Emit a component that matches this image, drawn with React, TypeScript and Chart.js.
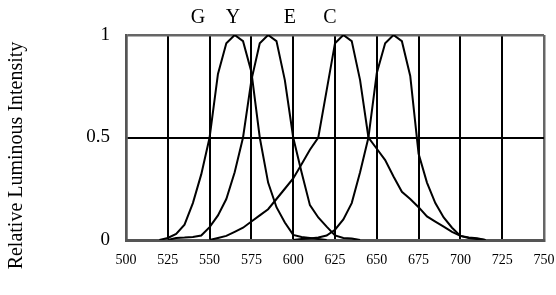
import React, { useEffect, useRef } from "react";
import { Chart, registerables } from "chart.js";

Chart.register(...registerables);

// Wavelength (nm) and relative intensity for each of the four curves
const nmA = [520, 525, 530, 535, 540, 545, 550, 555, 560, 565, 570, 575, 580, 585, 590, 595, 600, 605, 610, 615, 620];
const valA = [0, 0.01, 0.03, 0.075, 0.18, 0.32, 0.5, 0.81, 0.96, 1, 0.97, 0.82, 0.5, 0.28, 0.16, 0.085, 0.025, 0.015, 0.01, 0.005, 0];

const nmB = [525, 530, 535, 540, 545, 550, 555, 560, 565, 570, 575, 580, 585, 590, 595, 600, 605, 610, 615, 620, 625, 630, 635, 640];
const valB = [0, 0.01, 0.012, 0.015, 0.022, 0.063, 0.12, 0.2, 0.33, 0.5, 0.78, 0.96, 1, 0.97, 0.78, 0.5, 0.33, 0.17, 0.11, 0.065, 0.022, 0.01, 0.007, 0];

const nmC = [550, 555, 560, 565, 570, 575, 580, 585, 590, 595, 600, 605, 610, 615, 620, 625, 630, 635, 640, 645, 650, 655, 660, 665, 670, 675, 680, 685, 690, 695, 700, 705, 710, 715];
const valC = [0, 0.01, 0.02, 0.04, 0.06, 0.09, 0.12, 0.15, 0.2, 0.25, 0.3, 0.37, 0.44, 0.5, 0.73, 0.96, 1, 0.97, 0.78, 0.5, 0.445, 0.39, 0.31, 0.235, 0.2, 0.16, 0.115, 0.09, 0.065, 0.04, 0.02, 0.012, 0.008, 0];

const nmD = [600, 605, 610, 615, 620, 625, 630, 635, 640, 645, 650, 655, 660, 665, 670, 675, 680, 685, 690, 695, 700, 705, 710, 715];
const valD = [0, 0.005, 0.007, 0.012, 0.022, 0.05, 0.1, 0.18, 0.33, 0.5, 0.815, 0.96, 1, 0.97, 0.8, 0.42, 0.28, 0.18, 0.11, 0.06, 0.02, 0.01, 0.005, 0];

// Top annotations and their wavelength positions
const topLabels = ["G", "Y", "E", "C"];
const topLabelNm = [543, 564, 598, 622];

const yTitle = "Relative Luminous Intensity";
const xMin = 500, xMax = 750, xStep = 25;
const yMin = 0, yMax = 1, yStep = 0.5;

const FONT = "'Liberation Serif', 'Times New Roman', serif";

const pts = (xs: number[], ys: number[]) => xs.map((x, i) => ({ x, y: ys[i] }));

export default function App() {
  const ref = useRef<HTMLCanvasElement | null>(null);

  useEffect(() => {
    document.body.style.margin = "0";
    const canvas = ref.current;
    if (!canvas) return;

    const annot = {
      id: "annot",
      afterDraw(chart: any) {
        const { ctx, scales, chartArea } = chart;
        ctx.save();
        ctx.fillStyle = "#000";
        ctx.font = `20px ${FONT}`;
        ctx.textAlign = "center";
        ctx.textBaseline = "alphabetic";
        topLabels.forEach((t, i) => {
          ctx.fillText(t, scales.x.getPixelForValue(topLabelNm[i]), chartArea.top - 12);
        });
        // y-axis title
        ctx.font = `20px ${FONT}`;
        ctx.translate(17, (chartArea.top + chartArea.bottom) / 2 + 18);
        ctx.rotate(-Math.PI / 2);
        ctx.textBaseline = "middle";
        ctx.fillText(yTitle, 0, 0);
        ctx.restore();
      },
    };

    const ds = (xs: number[], ys: number[]) => ({
      data: pts(xs, ys),
      borderColor: "#000",
      borderWidth: 2,
      pointRadius: 0,
      fill: false,
      tension: 0,
    });

    const chart = new Chart(canvas, {
      type: "line",
      data: {
        datasets: [ds(nmA, valA), ds(nmB, valB), ds(nmC, valC), ds(nmD, valD)],
      },
      options: {
        animation: false,
        responsive: false,
        maintainAspectRatio: false,
        layout: { padding: { left: 0, right: 0, top: 35, bottom: 0 } },
        plugins: { legend: { display: false }, tooltip: { enabled: false }, title: { display: false } },
        scales: {
          x: {
            type: "linear",
            min: xMin,
            max: xMax,
            ticks: { stepSize: xStep, color: "#000", font: { family: FONT, size: 14 }, padding: 12 },
            grid: {
              color: (c: any) => (c.tick && (c.tick.value === xMin || c.tick.value === xMax) ? "#666" : "#000"),
              lineWidth: (c: any) => (c.tick && (c.tick.value === xMin || c.tick.value === xMax) ? 2.5 : 2),
              drawTicks: false,
            },
            border: { color: "#555", width: 3 },
            afterFit: (s: any) => {
              s.height = 295 - 240;
              s.paddingRight = 12;
              s.paddingLeft = 0;
            },
          },
          y: {
            type: "linear",
            min: yMin,
            max: yMax,
            ticks: {
              stepSize: yStep,
              color: "#000",
              font: { family: FONT, size: 19 },
              padding: 16,
              callback: (v: any) => String(v),
            },
            grid: {
              color: (c: any) => (c.tick && (c.tick.value === yMin || c.tick.value === yMax) ? "#666" : "#000"),
              lineWidth: (c: any) => (c.tick && (c.tick.value === yMin || c.tick.value === yMax) ? 2.5 : 2),
              drawTicks: false,
            },
            border: { color: "#555", width: 2.5 },
            afterFit: (s: any) => {
              s.width = 126;
              s.paddingTop = 0;
              s.paddingBottom = 0;
            },
          },
        },
      },
      plugins: [annot],
    });
    return () => chart.destroy();
  }, []);

  return (
    <div style={{ width: 556, height: 295 }}>
      <canvas ref={ref} width={556} height={295} style={{ display: "block" }} />
    </div>
  );
}
